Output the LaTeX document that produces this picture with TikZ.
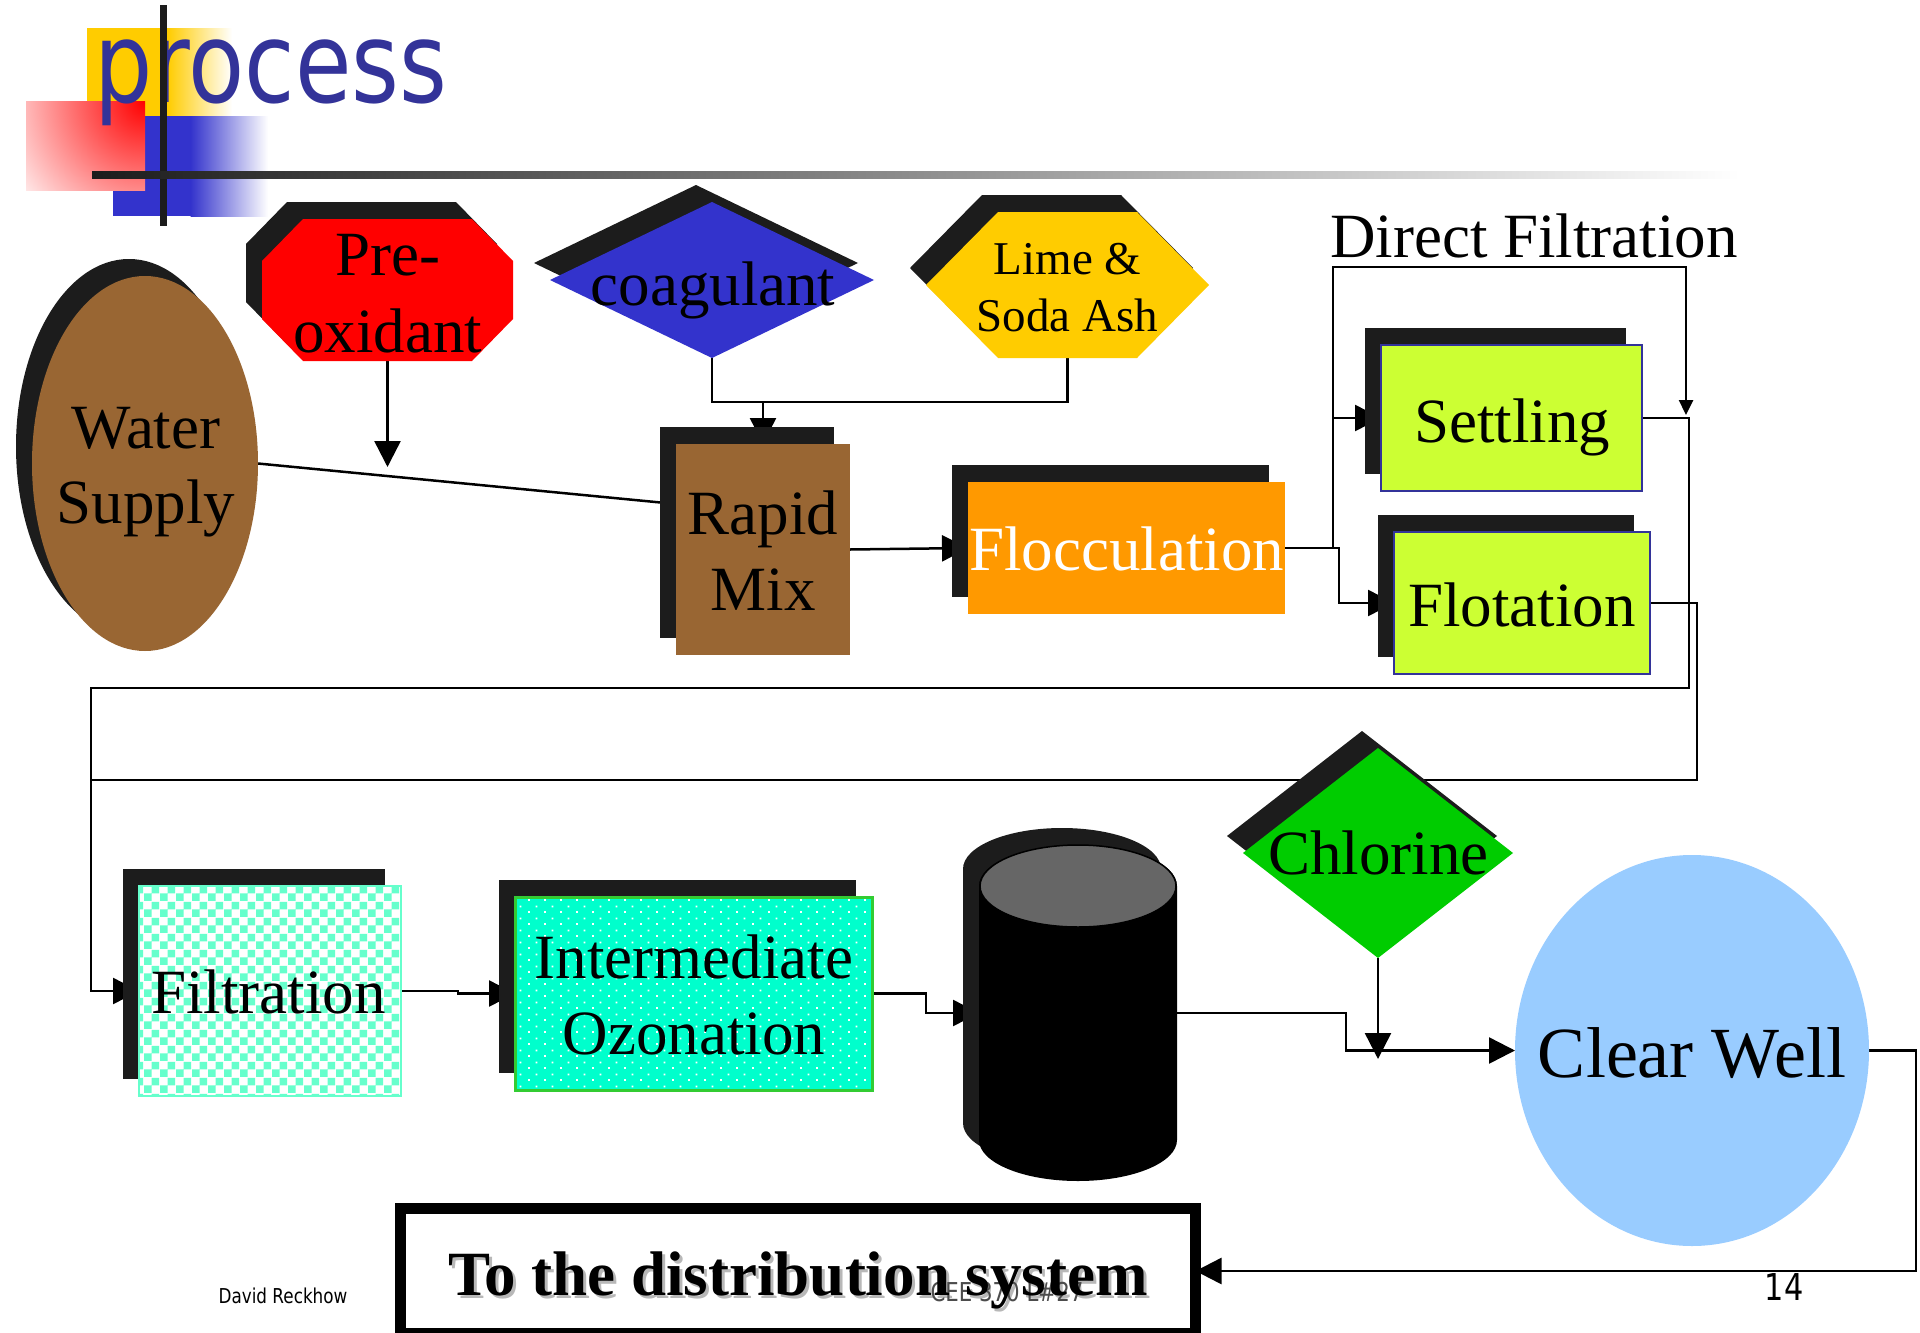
\documentclass[tikz,border=0pt]{standalone}
\usepackage{fontspec}
\setmainfont{Liberation Serif}
\newfontfamily\titlefont{DejaVu Sans}[FakeStretch=0.82]
\usetikzlibrary{shapes.geometric,shadows,patterns,arrows.meta,calc}

\definecolor{shadowc}{HTML}{1C1C1C}
\definecolor{titlec}{HTML}{333399}
\definecolor{decoyellow}{HTML}{FFCC00}
\definecolor{decoblue}{HTML}{3333CC}
\definecolor{brownc}{HTML}{996633}
\definecolor{redc}{HTML}{FF0000}
\definecolor{coagc}{HTML}{3333CC}
\definecolor{limec}{HTML}{FFCC00}
\definecolor{floccc}{HTML}{FF9900}
\definecolor{settlec}{HTML}{CCFF33}
\definecolor{edgec}{HTML}{333399}
\definecolor{filtc}{HTML}{66FFCC}
\definecolor{ozonc}{HTML}{00FFCC}
\definecolor{ozonedge}{HTML}{33CC33}
\definecolor{chlorc}{HTML}{00CC00}
\definecolor{clearc}{HTML}{99CCFF}
\definecolor{topgray}{HTML}{666666}

% fill patterns for the filter bed and the ozone contactor
\pgfdeclarepatternformonly{checks}{\pgfpointorigin}{\pgfqpoint{16pt}{16pt}}{\pgfqpoint{16pt}{16pt}}{%
  \pgfpathrectangle{\pgfpointorigin}{\pgfqpoint{8pt}{8pt}}%
  \pgfpathrectangle{\pgfqpoint{8pt}{8pt}}{\pgfqpoint{8pt}{8pt}}%
  \pgfusepath{fill}}
\pgfdeclarepatternformonly{speckle}{\pgfpointorigin}{\pgfqpoint{16pt}{12pt}}{\pgfqpoint{16pt}{12pt}}{%
  \pgfpathrectangle{\pgfqpoint{0pt}{0pt}}{\pgfqpoint{2pt}{2pt}}%
  \pgfpathrectangle{\pgfqpoint{8pt}{6pt}}{\pgfqpoint{2pt}{2pt}}%
  \pgfusepath{fill}}

% two centred lines, baseline at the first line
\newcommand\twoline[2]{\vtop{\tabskip=0pt\halign{\hfil##\hfil\cr#1\cr#2\cr}}}
\newcommand\bigfont{\fontsize{63}{76}\selectfont}

\pgfdeclarelayer{bg}
\pgfdeclarelayer{wires}
\pgfsetlayers{bg,wires,main}

\begin{document}
\begin{tikzpicture}[x=1pt,y=-1pt,
  backplate/.style={general shadow={fill=shadowc, shadow xshift=-16pt, shadow yshift=17pt}},
  plate/.style 2 args={rectangle, inner sep=0pt, outer sep=0pt, minimum width=#1, minimum height=#2},
  lbl/.style={inner sep=0pt, anchor=base},
  wire/.style={draw=black, line width=2.5pt},
  >={Triangle[length=26pt,width=26pt]},
  smalltip/.style={-{Triangle[length=15pt,width=14pt]}}]

\begin{pgfonlayer}{bg}
  \fill[white] (0,0) rectangle (1920,1333);
\end{pgfonlayer}
\useasboundingbox (0,0) rectangle (1920,1333);

% ---- title block ----
\fill[decoyellow] (87,28) rectangle (168,116);
\shade[left color=decoyellow, right color=white] (167.5,28) rectangle (232,116);
\fill[decoblue] (113,116) rectangle (191,216);
\shade[left color=decoblue, right color=white] (190.5,116) rectangle (268,216);
\begin{scope}
  \clip (26,101) rectangle (145,190);
  \shade[inner color=redc, outer color=white] (145,101) circle[radius=165pt];
\end{scope}
\node[lbl, text=titlec, font=\titlefont\fontsize{112}{120}\selectfont] (title) at (271,102) {process};
\fill[shadowc] (160,5) rectangle (167,226);
\shade[left color=shadowc, middle color=black!35, right color=white] (92,171) rectangle (1740,178);

% ---- process units ----
\node[plate={226pt}{375pt}, ellipse, fill=brownc, backplate] (water) at (145,463.5) {};

\node[plate={251pt}{142pt}] (pre) at (387.5,290) {};
\fill[redc, backplate] (303,219) -- (472,219) -- (513,261) -- (513,319) -- (472,361)
  -- (303,361) -- (262,319) -- (262,261) -- cycle;

\node[plate={324pt}{156pt}, diamond, fill=coagc, backplate] (coag) at (712,280) {};

\node[plate={283pt}{146pt}] (lime) at (1067.5,285) {};
\fill[limec, backplate] (926,285) -- (998,212) -- (1137,212) -- (1209,285) -- (1137,358)
  -- (998,358) -- cycle;

\node[plate={174pt}{211pt}, fill=brownc, backplate] (rapid) at (763,549.5) {};
\node[plate={317pt}{132pt}, fill=floccc, backplate] (flocc) at (1126.5,548) {};
\node[plate={261pt}{146pt}, fill=settlec, draw=edgec, line width=2.5pt, backplate] (settle) at (1511.5,418) {};
\node[plate={256pt}{142pt}, fill=settlec, draw=edgec, line width=2.5pt, backplate] (flot) at (1522,603) {};

\node[plate={262pt}{210pt}, backplate, preaction={fill=white}, pattern=checks,
  pattern color=filtc, draw=filtc, line width=1.5pt] (filt) at (270,991) {};
\node[plate={357pt}{193pt}, backplate, preaction={fill=ozonc}, pattern=speckle,
  pattern color=white, draw=ozonedge, line width=3pt] (ozon) at (693.5,993.5) {};

% storage tank
\node[plate={198pt}{336pt}] (tank) at (1078,1013) {};
\fill[shadowc] (963,869) -- (963,1123) arc[start angle=180, end angle=360, x radius=99pt, y radius=41pt]
  -- (1161,869) arc[start angle=0, end angle=180, x radius=99pt, y radius=41pt] -- cycle;
\fill[black] (979,886) -- (979,1140) arc[start angle=180, end angle=360, x radius=99pt, y radius=41pt]
  -- (1177,886) arc[start angle=0, end angle=180, x radius=99pt, y radius=41pt] -- cycle;
\filldraw[fill=topgray, draw=black, line width=1.5pt] (1078,886) ellipse[x radius=98pt, y radius=41pt];

\node[plate={270pt}{210pt}, diamond, fill=chlorc, backplate] (chlor) at (1378,853) {};
\node[plate={354pt}{391pt}, ellipse, fill=clearc] (clear) at (1692,1050.5) {};
\node[plate={795pt}{125pt}, draw=black, line width=11pt, fill=white] (dist) at (798,1271) {};

% ---- connectors ----
\begin{pgfonlayer}{wires}
  \draw[wire] (water.east) -- ($(rapid.north west)+(0,60)$);
  \coordinate (preIn) at ($(pre.south)+(0,106)$);
  \draw[wire,->] (pre.south) -- (preIn);
  \draw[wire] (coag.south) -- ++(0,44) -| (lime.south);
  \draw[wire,->] ($(rapid.north)+(0,-42)$) -- (rapid.north);
  \draw[wire,->] (rapid.east) -- (flocc.west);
  \coordinate (split) at ($(flocc.east)+(48,0)$);
  \draw[wire,->] (flocc.east) -- ++(54,0) |- (flot.west);
  \coordinate (dfIn) at ($(settle.north east)+(44,70)$);
  \draw[wire,smalltip] (split) -- ++(0,-281) -| (dfIn);
  \draw[wire,->] (split |- settle.west) -- (settle.west);
  \coordinate (retA) at (91,688);
  \coordinate (retB) at (91,780);
  \draw[wire,->] (settle.east) -- ++(47,0) |- (retA) |- (filt.west);
  \draw[wire] (flot.east) -- ++(47,0) |- (retB);
  \draw[wire,->] (filt.east) -- ++(57,0) |- (ozon.west);
  \draw[wire,->] (ozon.east) -- ++(54,0) |- (tank.west);
  \draw[wire,->] (tank.east) -- ++(169,0) |- (clear.west);
  \draw[wire,->] (chlor.south) -- ++(0,101);
  \draw[wire,->] (clear.east) -- ++(47,0) |- (dist.east);
\end{pgfonlayer}

% ---- labels ----
\node[lbl, font=\fontsize{63}{77}\selectfont] (preT) at (387.5,275) {\twoline{Pre-}{oxidant}};
\node[lbl, font=\bigfont] (coagT) at (713,305) {coagulant};
\node[lbl, font=\fontsize{47}{57}\selectfont] (limeT) at (1067.5,274) {\twoline{Lime \&}{Soda Ash}};
\node[lbl, font=\fontsize{63}{75}\selectfont] (waterT) at (146,448) {\twoline{Water}{Supply}};
\node[lbl, font=\bigfont] (rapidT) at (763,534) {\twoline{Rapid}{Mix}};
\node[lbl, font=\bigfont] (dfT) at (1534,257) {Direct Filtration};
\node[lbl, font=\bigfont] (settleT) at (1512,442) {Settling};
\node[lbl, font=\bigfont, text=white] (floccT) at (1126.5,570) {Flocculation};
\node[lbl, font=\bigfont] (flotT) at (1522,626) {Flotation};
\node[lbl, font=\bigfont] (filtT) at (268.5,1013) {Filtration};
\node[lbl, font=\bigfont] (ozonT) at (694,978) {\twoline{Intermediate}{Ozonation}};
\node[lbl, font=\bigfont] (chlorT) at (1378.5,874) {Chlorine};
\node[lbl, font=\fontsize{72}{80}\selectfont] (clearT) at (1692,1077) {Clear Well};

\node[lbl, font=\bfseries\bigfont, text=black!28] (distS) at (801,1298) {To the distribution system};
\node[lbl, font=\titlefont\fontsize{26}{30}\selectfont, text=black!70] (course) at (1007,1301) {CEE 370 L\#27};
\node[lbl, font=\bfseries\bigfont] (distT) at (798,1295) {To the distribution system};

\node[lbl, font=\titlefont\fontsize{20.5}{24}\selectfont] (author) at (283,1303) {David Reckhow};
\node[lbl, font=\titlefont\fontsize{37}{40}\selectfont] (page) at (1784,1300) {14};
\end{tikzpicture}
\end{document}
